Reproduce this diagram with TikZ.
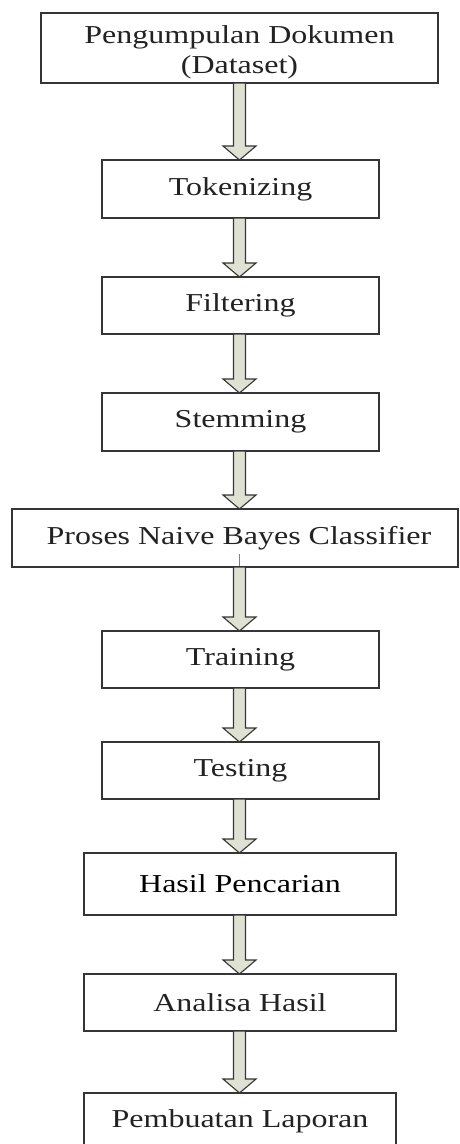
\documentclass[tikz,border=0pt]{standalone}
\usepackage{fontspec}
\setmainfont{Liberation Serif}[FakeStretch=1.24]
\usetikzlibrary{calc}
\definecolor{boxline}{HTML}{353535}
\definecolor{txt}{HTML}{222222}
\definecolor{arrowfill}{HTML}{DFE2D2}
\begin{document}
\begin{tikzpicture}[x=1pt,y=-1pt,
  stepbox/.style={draw=boxline, line width=1.2pt, fill=white, inner sep=0pt, outer sep=0pt,
    align=center, text=txt, font=\fontsize{25.8}{30}\selectfont},
  blockarr/.style={draw=boxline, line width=1.1pt, fill=arrowfill, line join=miter},
  tickline/.style={draw=gray, line width=1.1pt}]
\clip (0,0) rectangle (459,1144);
\fill[white] (0,0) rectangle (459,1144);
\coordinate (axis) at (239.5,0);
\node[stepbox, minimum width=397pt, minimum height=70pt] (n1) at (239.5,48) {\raisebox{-4pt}[\height][\depth]{\begin{tabular}{@{}c@{}}Pengumpulan Dokumen\\(Dataset)\end{tabular}}};
\node[stepbox, minimum width=277pt, minimum height=58pt] (n2) at (240.5,189) {Tokenizing};
\node[stepbox, minimum width=277pt, minimum height=57pt] (n3) at (240.5,305.5) {Filtering};
\node[stepbox, minimum width=277pt, minimum height=58pt] (n4) at (240.5,422) {Stemming};
\node[stepbox, minimum width=446pt, minimum height=58pt] (n5) at (235,538) {\hspace*{8pt}Proses Naive Bayes Classifier};
\node[stepbox, minimum width=277pt, minimum height=57pt] (n6) at (240.5,659.5) {Training};
\node[stepbox, minimum width=277pt, minimum height=57pt] (n7) at (240.5,770.5) {Testing};
\node[stepbox, minimum width=312pt, minimum height=62pt, text=black] (n8) at (240,884) {Hasil Pencarian};
\node[stepbox, minimum width=312pt, minimum height=57pt] (n9) at (240,1002.5) {Analisa Hasil};
\node[stepbox, minimum width=312pt, minimum height=57pt] (n10) at (240,1121.5) {Pembuatan Laporan};
\newcommand\blockarrow[2]{%
  \path[blockarr] let \p1=(#1.south -| axis), \p2=(#2.north -| axis) in
    (\x1-6pt,\y1) -- (\x1-6pt,\y2+14pt) -- (\x1-16.5pt,\y2+14pt) -- (\x1,\y2)
    -- (\x1+16.5pt,\y2+14pt) -- (\x1+6pt,\y2+14pt) -- (\x1+6pt,\y1) -- cycle;}
\blockarrow{n1}{n2}
\blockarrow{n2}{n3}
\blockarrow{n3}{n4}
\blockarrow{n4}{n5}
\blockarrow{n5}{n6}
\blockarrow{n6}{n7}
\blockarrow{n7}{n8}
\blockarrow{n8}{n9}
\blockarrow{n9}{n10}
\draw[tickline] (n5.south -| axis) ++(0,-1) -- ++(0,-12);
\end{tikzpicture}
\end{document}
